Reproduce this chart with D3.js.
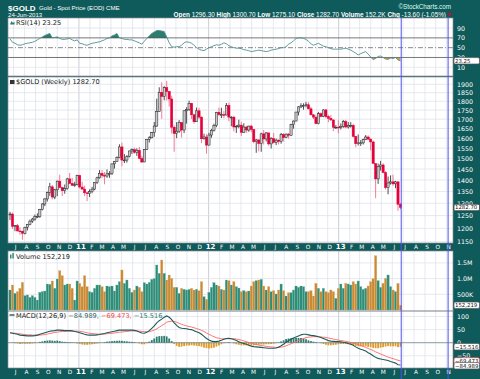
<!DOCTYPE html>
<html>
<head>
<meta charset="utf-8">
<script src="https://cdn.jsdelivr.net/npm/d3@7"></script>
<style>
  body { margin: 0; background: #0f5a5a; }
  svg text { font-family: "DejaVu Sans", sans-serif; white-space: pre; }
</style>
</head>
<body>
<svg id="chart" width="480" height="379"></svg>
<script>
// weekly bars, Monday dates
const firstWeek = new Date(2010, 5, 21);
const lastWeek = new Date(2013, 5, 24);

const opens = [1256,1256,1208,1210,1190,1189,1181,1204,1215,1228, 1236,1246,1246,1275,1297,1318,1345,1370,1326,1357,
  1395,1367,1353,1362,1405,1385,1376,1379, 1421,1369,1360,1344,1341,1349,1360,1388,1410,1430,
  1421,1418,1428,1429,1474,1486,1504,1556,1492,1492, 1510,1536,1542,1529,1539,1500,1483,1543,1594,1602,
  1628,1663,1743,1852,1828,1880,1857,1813,1657,1624, 1636,1682,1642,1746,1753,1788,1724,1686,1746,1711,
  1597,1606, 1565,1616,1640,1665,1738,1725,1725,1723, 1776,1711,1711,1658,1662,1668,1630,1658,1642,1663,
  1645,1582,1591,1573,1622,1596,1627,1571,1598,1578, 1590,1583,1618,1603,1621,1615,1671,1690,1739,1768,
  1774,1775,1780,1757,1724,1711,1676,1730,1714,1751, 1714,1705,1696,1657, 1657,1656,1662,1687,1658,1667,
  1667,1609,1572,1576,1576,1592,1606,1595,1581,1476, 1405,1462,1469,1434,1366,1387,1392,1383,1392,1296.3];
const highs = [1265,1262,1213,1217,1204,1191,1206,1217,1234,1241, 1254,1259,1277,1300,1321,1349,1387,1378,1361,1398,
  1424,1370,1380,1410,1432,1410,1392,1424, 1424,1392,1375,1349,1359,1370,1390,1415,1445,1445,
  1436,1448,1440,1476,1488,1510,1569,1577,1521,1516, 1537,1548,1552,1549,1556,1513,1545,1595,1610,1632,
  1685,1815,1882,1912,1889,1921,1861,1832,1667,1684, 1695,1684,1748,1766,1803,1791,1729,1764,1763,1716,
  1623,1621, 1628,1648,1676,1740,1764,1763,1744,1790, 1792,1716,1718,1668,1697,1686,1678,1663,1665,1670,
  1646,1596,1594,1628,1642,1632,1628,1605,1627,1598, 1594,1627,1626,1624,1626,1675,1693,1740,1772,1788,
  1788,1796,1794,1768,1728,1724,1740,1737,1754,1755, 1724,1723,1697,1668, 1694,1677,1695,1696,1684,1684,
  1675,1611,1619,1590,1597,1616,1614,1600,1588,1476, 1476,1488,1477,1440,1416,1421,1424,1396,1393,1300.7];
const lows = [1232,1198,1189,1189,1176,1157,1177,1192,1212,1221, 1230,1240,1241,1271,1288,1307,1331,1316,1317,1330,
  1365,1330,1340,1357,1383,1375,1370,1376, 1363,1358,1330,1309,1326,1342,1355,1382,1406,1408,
  1381,1410,1410,1423,1452,1484,1501,1462,1478,1480, 1505,1521,1522,1512,1496,1478,1482,1541,1578,1599,
  1607,1660,1741,1702,1806,1805,1770,1624,1532,1600, 1627,1603,1626,1676,1745,1701,1675,1687,1701,1575,
  1592,1523, 1564,1602,1634,1657,1718,1706,1705,1721, 1688,1662,1635,1627,1652,1611,1628,1627,1633,1631,
  1574,1527,1534,1532,1568,1583,1562,1548,1574,1565, 1568,1572,1583,1600,1598,1613,1649,1688,1720,1761,
  1752,1765,1754,1720,1701,1673,1672,1710,1711,1705, 1683,1690,1636,1648, 1626,1645,1654,1652,1650,1655,
  1604,1555,1563,1561,1568,1590,1591,1539,1476,1321, 1383,1443,1430,1359,1338,1380,1375,1364,1269,1275.1];
const closes = [1256,1208,1210,1190,1189,1181,1204,1215,1228,1236, 1246,1246,1275,1297,1318,1345,1370,1326,1357,1395,
  1367,1353,1362,1405,1385,1376,1379,1421, 1369,1360,1344,1341,1349,1360,1388,1410,1430,1421,
  1418,1428,1429,1474,1486,1504,1556,1492,1492,1510, 1536,1542,1529,1539,1500,1483,1543,1594,1602,1628,
  1663,1743,1852,1828,1880,1857,1813,1657,1624,1636, 1682,1642,1746,1753,1788,1724,1686,1746,1711,1597,
  1606,1565, 1616,1640,1665,1738,1725,1725,1723,1776, 1711,1711,1658,1662,1668,1630,1658,1642,1663,1645,
  1582,1591,1573,1622,1596,1627,1571,1598,1578,1590, 1583,1618,1603,1621,1615,1671,1690,1739,1768,1774,
  1775,1780,1757,1724,1711,1676,1730,1714,1751,1714, 1705,1696,1657,1657, 1656,1662,1687,1658,1667,1667,
  1609,1572,1576,1576,1592,1606,1595,1581,1476,1405, 1462,1469,1434,1366,1387,1392,1383,1392,1296,1282.7];
// volume in thousands
const volumes = [637,796,531,584,690,881,456,478,403,456, 403,318,563,584,605,828,817,924,690,987,
  1253,1093,796,828,828,690,318,924,849,743, 1093,743,584,563,690,796,796,743,584,764,
  743,764,605,796,902,1274,849,955,690,563, 637,764,722,584,870,828,881,976,1000,1433,
  1168,1592,1168,955,1115,1008,722,722,531,690, 658,637,658,690,637,658,616,902,424,340,
  563,722,870,796,764,658,637,955,934,796, 902,743,700,584,616,584,605,764,902,934,
  955,976,764,637,743,584,616,509,637,828, 616,446,552,552,637,764,722,764,743,584,
  584,616,446,849,690,584,690,584,552,637, 584,371,690,828,690,849,828,796,902,828,
  924,743,658,690,764,902,1000,1730,934,722, 850,1008,1115,743,637,584,849,152.219];
const rsiValues = [68,61,59,56,55,56,58,59,60,61, 63,66,69,72,75,77,79,70,71,72,
  69,67,67,68,69,66,64,66,59,58, 56,55,57,59,60,61,62,64,66,69,
  70,74,76,79,70,69,67,67,66,66, 64,62,60,57,63,69,74,79,82,85,
  85,84,83,72,60,52,51,52,52,55, 60,62,61,59,55,50,47,45,44,47,
  50,52,54,56,55,57,60,58,54,52, 50,49,49,48,46,45,44,42,43,44,
  45,44,43,42,43,45,46,47,48,50, 50,52,57,60,64,69,70,70,69,67,
  63,58,55,57,59,56,53,52,50,48, 47,47,47,47,48,49,47,45,42,39,
  35,38,40,42,37,31,26,28,32,33, 30,27,26,29,28,30,25,23.25];
const macdLine = [38,36,34,32,29,28,27,26,26,26, 27,29,32,35,38,41,44,45,46,48,
  48,47,46,46,46,45,43,41,38,35, 32,30,29,29,29,30,31,33,35,38,
  40,42,44,46,48,48,48,48,48,48, 47,45,41,37,36,40,46,55,64,76,
  84,90,97,102,97,88,76,66,58,55, 54,53,51,50,46,42,38,32,24,16,
  10,6,4,4,6,9,13,16,17,15, 12,8,4,0,-3,-6,-10,-13,-15,-16,
  -17,-18,-19,-20,-21,-21,-21,-20,-17,-12, -6,2,8,13,18,22,26,30,32,32,
  30,28,27,25,23,20,16,12,8,6, 5,4,4,3,2,0,-3,-6,-10,-16,
  -21,-25,-28,-32,-38,-43,-50,-56,-60,-62, -64,-66,-68,-72,-75,-78,-84,-84.989];
const signalLine = [38,37,36,35,34,32,31,30,30,29, 29,29,29,30,31,33,35,37,39,40,
  42,43,43,44,44,44,44,44,43,42, 40,38,36,35,34,33,33,33,33,34,
  35,36,37,39,40,41,42,43,44,45, 45,45,44,43,42,42,42,45,48,53,
  59,65,71,78,81,82,81,78,74,70, 67,64,62,60,57,54,51,47,43,37,
  32,27,23,19,17,15,15,15,15,15, 15,14,12,10,7,4,1,-2,-5,-7,
  -9,-11,-12,-14,-15,-16,-17,-18,-18,-17, -15,-12,-8,-4,0,4,8,12,16,19,
  21,22,23,23,23,22,21,20,18,16, 14,12,10,8,7,5,3,1,-1,-4,
  -7,-11,-14,-18,-22,-26,-30,-35,-39,-43, -47,-51,-55,-58,-61,-64,-67,-69.473];
const macdHist = [0,-1,-2,-3,-5,-4,-4,-4,-4,-3, -2,0,3,5,7,8,9,8,7,8,
  6,4,3,2,2,1,-1,-3,-5,-7, -8,-8,-7,-6,-5,-3,-2,0,2,4,
  5,6,7,7,8,7,6,5,4,3, 2,0,-3,-6,-6,-2,4,10,16,23,
  25,25,26,24,16,6,-5,-12,-16,-15, -13,-11,-11,-10,-11,-12,-13,-15,-19,-21,
  -22,-21,-19,-15,-11,-6,-2,1,2,0, -3,-6,-8,-10,-10,-10,-11,-11,-10,-9,
  -8,-7,-7,-6,-6,-5,-4,-2,1,5, 9,14,16,17,18,18,18,18,16,13,
  9,6,4,2,0,-2,-5,-8,-10,-10, -9,-8,-6,-5,-5,-5,-6,-7,-9,-12,
  -14,-14,-14,-14,-16,-17,-20,-21,-21,-19, -17,-15,-13,-14,-14,-14,-17,-15.516];

const priceTicks = [1150,1200,1250,1300,1350,1400,1450,1500,1550,1600,1650,1700,1750,1800,1850,1900];
const rsiTicks = [10,30,50,70,90];
const volTicks = [500,1000,1500];
const volTickLabels = ["500K","1.0M","1.5M"];
const macdTicks = [-50,0,50,100];
const headerLabels = ["Open","High","Low","Close","Volume","Chg"];
const headerValues = ["1296.30","1300.70","1275.10","1282.70","152.2K","-13.60 (-1.05%)"];

const weeks = d3.timeMonday.range(firstWeek, d3.timeDay.offset(lastWeek, 1));
const months = d3.timeMonth.range(new Date(2010, 6, 1), new Date(2013, 10, 2));

const L = 8, R = 453;
const pane = { rsi: [18, 76], price: [77, 243], vol: [251, 311], macd: [311, 368] };

const x = d3.scaleTime().domain([firstWeek, lastWeek]).range([10, 400.5]);
const yRsi = d3.scaleLinear().domain([-7.8, 110.6]).range([pane.rsi[1], pane.rsi[0]]);
const yPrice = d3.scaleLog().domain([1145.2, 1944.8]).range([pane.price[1], pane.price[0]]);
const yVol = d3.scaleLinear().domain([0, 1879]).range([310, pane.vol[0]]);
const yMacd = d3.scaleLinear().domain([-96.6, 121]).range([pane.macd[1], pane.macd[0]]);

const svg = d3.select("#chart");
svg.append("rect").attr("width", 480).attr("height", 379).attr("fill", "#0f5a5a");

const down = closes.map((c, i) => c < (i ? closes[i - 1] : opens[i]));

function drawPane(p, yScale, ticks) {
  let g = svg.append("g");
  g.append("rect").attr("x", L).attr("y", p[0]).attr("width", R - L).attr("height", p[1] - p[0])
    .attr("fill", "#fff");
  g.selectAll("line.v").data(months).join("line").attr("class", "v")
    .attr("x1", d => x(d)).attr("x2", d => x(d)).attr("y1", p[0]).attr("y2", p[1])
    .attr("stroke", d => d.getMonth() === 0 ? "#b3b7c9" : "#dcdfea").attr("stroke-width", 0.7);
  g.selectAll("line.h").data(ticks).join("line").attr("class", "h")
    .attr("x1", L).attr("x2", R).attr("y1", d => yScale(d)).attr("y2", d => yScale(d))
    .attr("stroke", "#dcdfea").attr("stroke-width", 0.7);
  return g;
}

function rightAxis(yScale, ticks, fmt) {
  svg.append("g").attr("transform", `translate(${R},0)`)
    .call(d3.axisRight(yScale).tickValues(ticks).tickSize(0).tickPadding(4).tickFormat(fmt))
    .call(g => g.select(".domain").remove())
    .selectAll("text").attr("fill", "#fff").style("font-size", "6.3px").style("font-family", "DejaVu Sans");
}

function dateBand(top) {
  svg.append("g").attr("transform", `translate(1.5,${top + 1.5})`)
    .call(d3.axisBottom(x).tickValues(months).tickSize(0).tickPadding(0)
      .tickFormat(d => d.getMonth() === 0 ? d3.timeFormat("%y")(d) : d3.timeFormat("%b")(d)[0]))
    .call(g => g.select(".domain").remove())
    .selectAll("text").attr("fill", "#fff").style("font-family", "DejaVu Sans")
    .style("font-size", d => d.getMonth() === 0 ? "7px" : "5.8px")
    .style("font-weight", d => d.getMonth() === 0 ? "bold" : "normal");
}

function paneLabel(yBase, parts) {
  let t = svg.append("text").attr("x", 16).attr("y", yBase).style("font-size", "6.6px");
  parts.forEach(p => t.append("tspan").attr("fill", p[1]).text(p[0]));
}

function valueTag(yv, label, stroke) {
  svg.append("rect").attr("x", R + 1).attr("y", yv - 3.2).attr("width", 25.5).attr("height", 6.4)
    .attr("rx", 1.5).attr("fill", "#fff").attr("stroke", stroke).attr("stroke-width", 0.7);
  svg.append("text").attr("x", R + 2).attr("y", yv + 2).style("font-size", "5.4px")
    .attr("fill", "#111").text(label);
}

// ---------- header
svg.append("text").attr("x", 8).attr("y", 10.5).attr("fill", "#fff")
  .style("font-family", "Liberation Sans").style("font-weight", "bold").style("font-size", "8px").text("$GOLD");
svg.append("text").attr("x", 39).attr("y", 10).attr("fill", "#fff")
  .style("font-family", "Liberation Sans").style("font-size", "6.1px").text("Gold - Spot Price (EOD) CME");
svg.append("text").attr("x", 8).attr("y", 16.6).attr("fill", "#fff")
  .style("font-family", "Liberation Sans").style("font-size", "6.1px").text("24-Jun-2013");
svg.append("text").attr("x", 451).attr("y", 9).attr("text-anchor", "end").attr("fill", "#dfe")
  .style("font-family", "Liberation Sans").style("font-size", "6.3px").text("\u00A9StockCharts.com");
let header = svg.append("text").attr("x", 446).attr("y", 16.6).attr("text-anchor", "end").attr("fill", "#fff")
  .style("font-family", "Liberation Sans").style("font-size", "6.4px");
headerLabels.forEach((lab, i) => {
  header.append("tspan").style("font-weight", "bold").text(lab + " ");
  header.append("tspan").text(headerValues[i] + (i < headerLabels.length - 1 ? " " : ""));
});
svg.append("path").attr("d", "M447.5,13.2 L452,13.2 L449.75,16.2 Z").attr("fill", "#e8003c");

// ---------- RSI pane
let rsiG = drawPane(pane.rsi, yRsi, [10, 90]);
svg.append("clipPath").attr("id", "above70").append("rect")
  .attr("x", L).attr("y", pane.rsi[0]).attr("width", R - L).attr("height", yRsi(70) - pane.rsi[0]);
svg.append("clipPath").attr("id", "below30").append("rect")
  .attr("x", L).attr("y", yRsi(30)).attr("width", R - L).attr("height", pane.rsi[1] - yRsi(30));
rsiG.append("path").datum(rsiValues).attr("clip-path", "url(#above70)").attr("fill", "#2b7d6e")
  .attr("d", d3.area().x((d, i) => x(weeks[i])).y0(yRsi(70)).y1(d => yRsi(d)));
rsiG.append("path").datum(rsiValues).attr("clip-path", "url(#below30)").attr("fill", "#e39a2c")
  .attr("d", d3.area().x((d, i) => x(weeks[i])).y0(yRsi(30)).y1(d => yRsi(d)));
[30, 70].forEach(v => rsiG.append("line").attr("x1", L).attr("x2", R).attr("y1", yRsi(v)).attr("y2", yRsi(v))
  .attr("stroke", "#555").attr("stroke-width", 0.8));
rsiG.append("line").attr("x1", L).attr("x2", R).attr("y1", yRsi(50)).attr("y2", yRsi(50))
  .attr("stroke", "#555").attr("stroke-width", 0.7).attr("stroke-dasharray", "5,2,1,2");
rsiG.append("path").datum(rsiValues).attr("fill", "none").attr("stroke", "#4f8e8e").attr("stroke-width", 0.9)
  .attr("d", d3.line().x((d, i) => x(weeks[i])).y(d => yRsi(d)));
rightAxis(yRsi, rsiTicks, d3.format("d"));
rsiG.append("path").attr("d", "M10,24.5 L11.5,21 L13,23 L14.5,21.5 L14.5,24.5 Z").attr("fill", "#2b7d6e");
paneLabel(24.5, [["RSI(14) " + d3.format(".2f")(rsiValues[rsiValues.length - 1]), "#222"]]);

// ---------- price pane
let priceG = drawPane(pane.price, yPrice, priceTicks);
let candles = priceG.selectAll("g.candle").data(weeks).join("g").attr("class", "candle");
candles.append("line")
  .attr("x1", d => x(d)).attr("x2", d => x(d))
  .attr("y1", (d, i) => yPrice(highs[i])).attr("y2", (d, i) => yPrice(lows[i]))
  .attr("stroke", (d, i) => down[i] ? "#ee5a7c" : "#222").attr("stroke-width", 0.8);
candles.append("rect")
  .attr("x", d => x(d) - 1.1).attr("width", 2.2)
  .attr("y", (d, i) => yPrice(Math.max(opens[i], closes[i])))
  .attr("height", (d, i) => Math.max(0.8, Math.abs(yPrice(opens[i]) - yPrice(closes[i]))))
  .attr("fill", (d, i) => down[i] ? "#e4003a" : "#c9c9c9")
  .attr("stroke", (d, i) => down[i] ? "#e4003a" : "#1e1e1e").attr("stroke-width", 0.5);
rightAxis(yPrice, priceTicks, d3.format("d"));
priceG.append("rect").attr("x", 10).attr("y", 80).attr("width", 4.5).attr("height", 4).attr("fill", "#333");
paneLabel(84.2, [["$GOLD (Weekly) " + d3.format(".2f")(closes[closes.length - 1]), "#222"]]);
dateBand(pane.price[1]);

// ---------- volume pane
let volG = drawPane(pane.vol, yVol, volTicks);
volG.selectAll("rect.bar").data(weeks).join("rect").attr("class", "bar")
  .attr("x", d => x(d) - 1.15).attr("width", 2.3)
  .attr("y", (d, i) => yVol(volumes[i])).attr("height", (d, i) => yVol(0) - yVol(volumes[i]))
  .attr("fill", (d, i) => down[i] ? "#c98a35" : "#2f8c79")
  .attr("stroke", (d, i) => down[i] ? "#e0b070" : "#6fb6a6").attr("stroke-width", 0.3);
rightAxis(yVol, volTicks, (d, i) => volTickLabels[i]);
volG.append("rect").attr("x", 10).attr("y", 254.5).attr("width", 1.5).attr("height", 4).attr("fill", "#2f8c79");
volG.append("rect").attr("x", 12.3).attr("y", 253).attr("width", 1.5).attr("height", 5.5).attr("fill", "#2f8c79");
paneLabel(258.6, [["Volume " + d3.format(",")(Math.round(volumes[volumes.length - 1] * 1000)), "#222"]]);

// ---------- MACD pane
let macdG = drawPane(pane.macd, yMacd, macdTicks);
macdG.selectAll("rect.hist").data(weeks).join("rect").attr("class", "hist")
  .attr("x", d => x(d) - 0.9).attr("width", 1.8)
  .attr("y", (d, i) => Math.min(yMacd(0), yMacd(macdHist[i])))
  .attr("height", (d, i) => Math.abs(yMacd(macdHist[i]) - yMacd(0)))
  .attr("fill", (d, i) => macdHist[i] >= 0 ? "#2a7d6e" : "#e09a28");
macdG.append("line").attr("x1", L).attr("x2", R).attr("y1", yMacd(0)).attr("y2", yMacd(0))
  .attr("stroke", "#4a6f6f").attr("stroke-width", 0.6);
macdG.append("path").datum(signalLine).attr("fill", "none").attr("stroke", "#ff6464").attr("stroke-width", 0.9)
  .attr("d", d3.line().x((d, i) => x(weeks[i])).y(d => yMacd(d)));
macdG.append("path").datum(macdLine).attr("fill", "none").attr("stroke", "#1f5a5a").attr("stroke-width", 1.1)
  .attr("d", d3.line().x((d, i) => x(weeks[i])).y(d => yMacd(d)));
rightAxis(yMacd, macdTicks, d3.format("d"));
macdG.append("line").attr("x1", 9.5).attr("x2", 14.5).attr("y1", 315).attr("y2", 315)
  .attr("stroke", "#1f5a5a").attr("stroke-width", 1.4);
const f3 = d3.format(".3f");
paneLabel(317.6, [
  ["MACD(12,26,9) ", "#222"],
  [f3(macdLine[macdLine.length - 1]) + ", ", "#2d6a6a"],
  [f3(signalLine[signalLine.length - 1]) + ", ", "#f04646"],
  [f3(macdHist[macdHist.length - 1]), "#2d7a70"]
]);
dateBand(pane.macd[1]);

// pane borders
Object.values(pane).forEach(p => svg.append("rect").attr("x", L).attr("y", p[0]).attr("width", R - L)
  .attr("height", p[1] - p[0]).attr("fill", "none").attr("stroke", "#8a8f99").attr("stroke-width", 0.7));

// current-value tags
valueTag(yRsi(rsiValues[rsiValues.length - 1]), d3.format(".2f")(rsiValues[rsiValues.length - 1]), "#555");
valueTag(yPrice(closes[closes.length - 1]), d3.format(".2f")(closes[closes.length - 1]), "#333");
valueTag(yVol(volumes[volumes.length - 1]), d3.format(",")(Math.round(volumes[volumes.length - 1] * 1000)), "#555");
valueTag(yMacd(macdHist[macdHist.length - 1]), f3(macdHist[macdHist.length - 1]), "#555");
valueTag(yMacd(signalLine[signalLine.length - 1]), f3(signalLine[signalLine.length - 1]), "#f04646");
valueTag(yMacd(macdLine[macdLine.length - 1]) + 0.8, f3(macdLine[macdLine.length - 1]), "#555");

// blue date markers
[d3.timeDay.offset(lastWeek, 2), new Date(2013, 10, 5)].forEach(d =>
  svg.append("line").attr("x1", x(d)).attr("x2", x(d)).attr("y1", pane.rsi[0]).attr("y2", 379)
    .attr("stroke", "#5252ee").attr("stroke-width", 1));
</script>
</body>
</html>
